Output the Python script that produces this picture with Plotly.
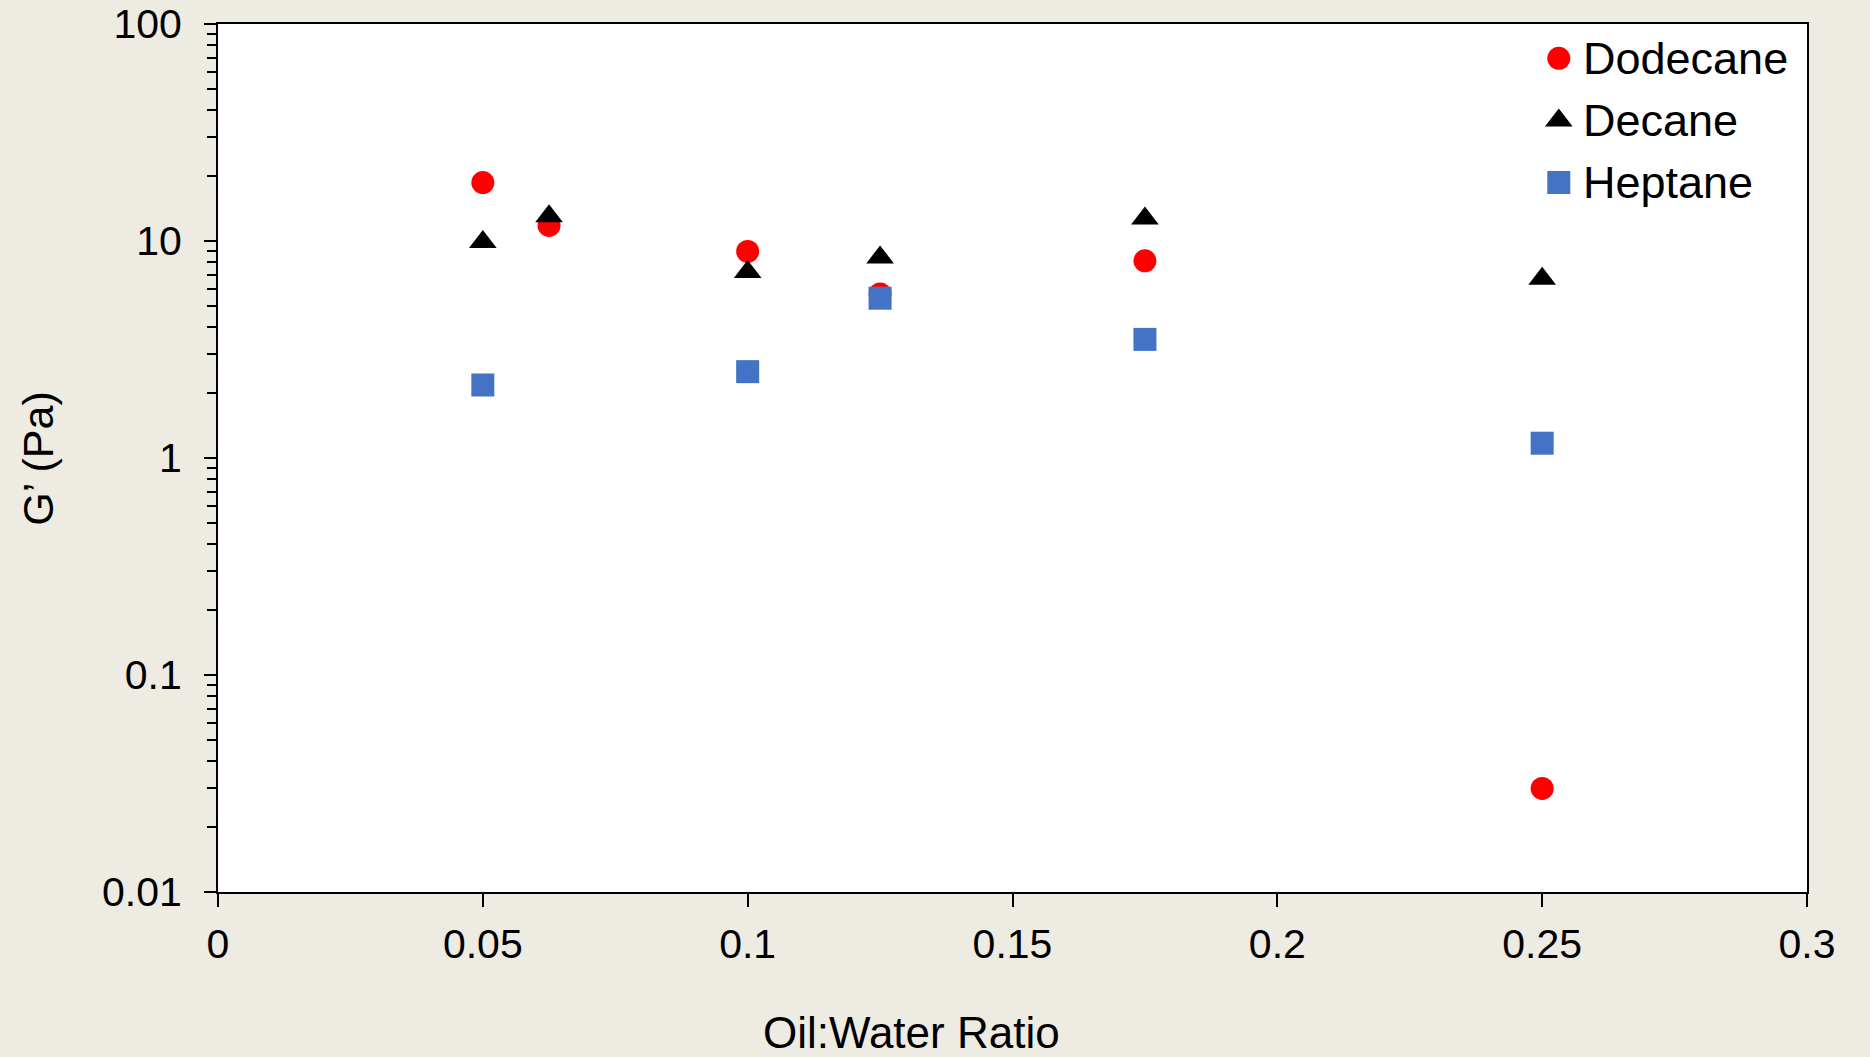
import plotly.graph_objects as go

# Oil:water ratios tested for each solvent
ratio_dodecane = [0.05, 0.0625, 0.1, 0.125, 0.175, 0.25]
ratio_decane = [0.05, 0.0625, 0.1, 0.125, 0.175, 0.25]
ratio_heptane = [0.05, 0.1, 0.125, 0.175, 0.25]

# Storage modulus G' (Pa)
g_dodecane = [18.6, 11.8, 8.95, 5.7, 8.1, 0.030]
g_decane = [9.9, 13.0, 7.2, 8.4, 12.7, 6.7]
g_heptane = [2.17, 2.5, 5.45, 3.52, 1.17]

series_names = ["Dodecane", "Decane", "Heptane"]
series_colors = ["#FF0000", "#000000", "#4472C4"]
series_symbols = ["circle", "triangle-up", "square"]
series_sizes = [23, 24, 23]

y_tickvals = [0.01, 0.1, 1, 10, 100]
y_ticktext = ["0.01", "0.1", "1", "10", "100"]
x_tickvals = [0, 0.05, 0.1, 0.15, 0.2, 0.25, 0.3]
x_ticktext = ["0", "0.05", "0.1", "0.15", "0.2", "0.25", "0.3"]

FONT = "Liberation Sans, Arial, sans-serif"

fig = go.Figure()
for name, xs, ys, col, sym, sz in zip(
    series_names,
    [ratio_dodecane, ratio_decane, ratio_heptane],
    [g_dodecane, g_decane, g_heptane],
    series_colors, series_symbols, series_sizes,
):
    fig.add_trace(go.Scatter(
        x=xs, y=ys, mode="markers", name=name, showlegend=False,
        marker=dict(symbol=sym, size=sz, color=col, line=dict(width=0)),
    ))

# Key in the upper-right corner, drawn on a hidden unit overlay axis so the
# symbols keep the same size as the plotted markers
key_x = 0.8438
key_text_x = 0.8575
key_y = [0.9604, 0.8888, 0.8174]
for name, col, sym, sz, ky in zip(series_names, series_colors, series_symbols,
                                  series_sizes, key_y):
    fig.add_trace(go.Scatter(
        x=[key_x], y=[ky], xaxis="x2", yaxis="y2", mode="markers",
        showlegend=False, hoverinfo="skip",
        marker=dict(symbol=sym, size=sz, color=col, line=dict(width=0)),
    ))
    fig.add_annotation(
        x=key_text_x, y=ky, xref="paper", yref="paper", text=name,
        showarrow=False, xanchor="left", yanchor="middle",
        font=dict(family=FONT, size=45, color="#000000"),
    )

fig.add_annotation(
    x=0.4364, y=-0.1613, xref="paper", yref="paper", text="Oil:Water Ratio",
    showarrow=False, xanchor="center", yanchor="middle",
    font=dict(family=FONT, size=44, color="#000000"),
)
fig.add_annotation(
    x=-0.1134, y=0.5, xref="paper", yref="paper", text="G\u2019 (Pa)",
    showarrow=False, xanchor="center", yanchor="middle", textangle=-90,
    font=dict(family=FONT, size=43, color="#000000"),
)

fig.update_layout(
    width=1870, height=1057,
    margin=dict(l=218, r=63, t=24, b=165),
    paper_bgcolor="#EEEBE3",
    plot_bgcolor="#FFFFFF",
    font=dict(family=FONT, color="#000000", size=41),
    showlegend=False,
    xaxis=dict(
        range=[0, 0.3], tickmode="array", tickvals=x_tickvals, ticktext=x_ticktext,
        showgrid=False, zeroline=False, automargin=False,
        showline=True, linecolor="#000000", linewidth=2, mirror=True,
        ticks="outside", ticklen=13, tickwidth=2, tickcolor="#000000",
        tickfont=dict(family=FONT, size=41, color="#000000"),
        ticklabelstandoff=2,
    ),
    yaxis=dict(
        type="log", range=[-2, 2], tickmode="array", tickvals=y_tickvals, ticktext=y_ticktext,
        showgrid=False, zeroline=False, automargin=False,
        showline=True, linecolor="#000000", linewidth=2, mirror=True,
        ticks="outside", ticklen=12, tickwidth=2, tickcolor="#000000",
        tickfont=dict(family=FONT, size=41, color="#000000"),
        ticklabelstandoff=14,
        minor=dict(ticks="outside", ticklen=9, tickwidth=2, tickcolor="#000000",
                   dtick="D1", showgrid=False),
    ),
    xaxis2=dict(range=[0, 1], overlaying="x", visible=False, fixedrange=True),
    yaxis2=dict(range=[0, 1], overlaying="y", visible=False, fixedrange=True),
)

fig.write_html("out.html")
